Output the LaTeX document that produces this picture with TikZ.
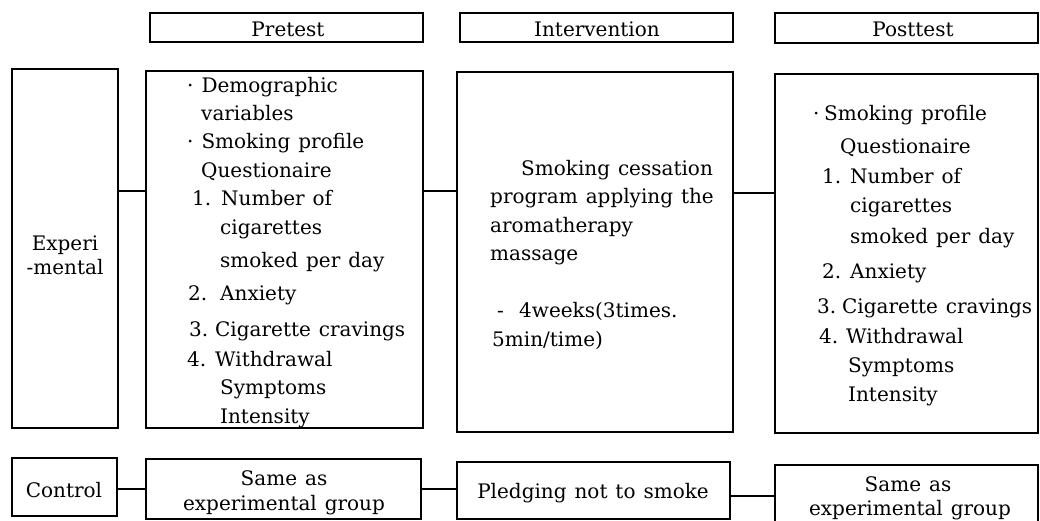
\documentclass[tikz,border=0pt]{standalone}
\usepackage{fontspec}
\setmainfont{DejaVu Serif}[WordSpace=1.25]
\usetikzlibrary{fit}
\begin{document}
\begin{tikzpicture}[x=1pt,y=-1pt,
  boxc/.style={draw, line width=1.3pt, inner sep=0pt},
  lbl/.style={anchor=base west, inner sep=0pt, font=\fontsize{20}{24}\selectfont},
  clbl/.style={anchor=base, inner sep=0pt, font=\fontsize{20}{24}\selectfont},
  wire/.style={draw, line width=1.3pt}]
\useasboundingbox[fill=white] (0,0) rectangle (1040,520);
% headers
\node[boxc, fit={(150,13) (423,42)}] (hpre) {};
\node[boxc, fit={(460,13) (733,42)}] (hint) {};
\node[boxc, fit={(775,13) (1038,43)}] (hpost) {};
\node[clbl] (thpre) at (288,36) {Pretest};
\node[clbl] (thint) at (597,36) {Intervention};
\node[clbl] (thpost) at (913,36) {Posttest};
% main boxes
\node[boxc, fit={(12,69) (118,428)}] (exp) {};
\node[boxc, fit={(146,71) (423,428)}] (pre) {};
\node[boxc, fit={(457,72) (733,432)}] (int) {};
\node[boxc, fit={(775,74) (1038,433)}] (post) {};
% control boxes
\node[boxc, fit={(12,458) (117,516)}] (ctl) {};
\node[boxc, fit={(146,459) (421,519)}] (cpre) {};
\node[boxc, fit={(457,462) (730,519)}] (cint) {};
\node[boxc, fit={(775,465) (1038,522)}] (cpost) {};
% connectors
\coordinate (ya) at (0,191);
\coordinate (yb) at (0,193);
\coordinate (yc) at (0,489);
\coordinate (yd) at (0,496);
\draw[wire] (exp.east |- ya) -- (pre.west |- ya);
\draw[wire] (pre.east |- ya) -- (int.west |- ya);
\draw[wire] (int.east |- yb) -- (post.west |- yb);
\draw[wire] (ctl.east |- yc) -- (cpre.west |- yc);
\draw[wire] (cpre.east |- yc) -- (cint.west |- yc);
\draw[wire] (cint.east |- yd) -- (cpost.west |- yd);
% experimental label
\node[clbl] (e1) at (65,250) {Experi};
\node[clbl] (e2) at (65,274) {-mental};
% pretest text
\node[lbl] (p1) at (187,92) {· Demographic};
\node[lbl] (p2) at (201,120) {variables};
\node[lbl] (p3) at (187,148) {· Smoking profile};
\node[lbl] (p4) at (201,177) {Questionaire};
\node[lbl] (p5) at (192,205) {\makebox[29pt][l]{1.}Number of};
\node[lbl] (p6) at (220,234) {cigarettes};
\node[lbl] (p7) at (220,267) {smoked per day};
\node[lbl] (p8) at (188,300) {\makebox[32pt][l]{2.}Anxiety};
\node[lbl] (p9) at (189,336) {\makebox[26pt][l]{3.}Cigarette cravings};
\node[lbl] (p10) at (187,366) {\makebox[28pt][l]{4.}Withdrawal};
\node[lbl] (p11) at (220,394) {Symptoms};
\node[lbl] (p12) at (220,423) {Intensity};
% intervention text
\node[lbl] (i1) at (521,175) {Smoking cessation};
\node[lbl] (i2) at (490,203) {program applying the};
\node[lbl] (i3) at (490,232) {aromatherapy};
\node[lbl] (i4) at (490,260) {massage};
\node[lbl] (i5) at (497,317) {\makebox[22pt][l]{-}4weeks(3times.};
\node[lbl] (i6) at (492,346) {5min/time)};
% posttest text
\node[lbl] (q1) at (813,120) {\makebox[11pt][l]{·}Smoking profile};
\node[lbl] (q2) at (840,153) {Questionaire};
\node[lbl] (q3) at (822,183) {\makebox[28pt][l]{1.}Number of};
\node[lbl] (q4) at (850,212) {cigarettes};
\node[lbl] (q5) at (850,243) {smoked per day};
\node[lbl] (q6) at (822,278) {\makebox[28pt][l]{2.}Anxiety};
\node[lbl] (q7) at (817,313) {\makebox[25pt][l]{3.}Cigarette cravings};
\node[lbl] (q8) at (819,343) {\makebox[27pt][l]{4.}Withdrawal};
\node[lbl] (q9) at (848,372) {Symptoms};
\node[lbl] (q10) at (848,401) {Intensity};
% control row text
\node[clbl] (c0) at (64,497) {Control};
\node[clbl] (c1) at (284,485) {Same as};
\node[clbl] (c2) at (284,510) {experimental group};
\node[clbl] (c3) at (593,498) {Pledging not to smoke};
\node[clbl] (c4) at (908,491) {Same as};
\node[clbl] (c5) at (910,515) {experimental group};
\end{tikzpicture}
\end{document}
